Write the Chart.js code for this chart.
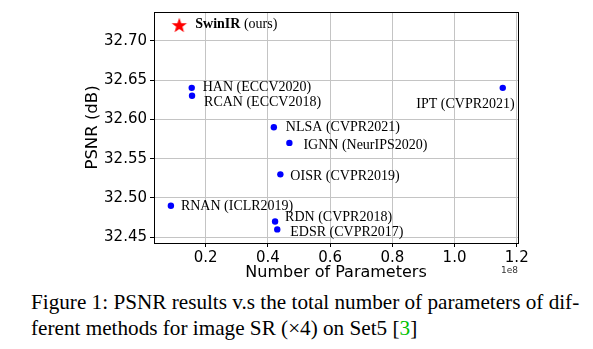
<!DOCTYPE html>
<html>
<head>
<meta charset="utf-8">
<script src="https://cdn.jsdelivr.net/npm/chart.js@4/dist/chart.umd.min.js"></script>
<style>
    body { margin: 0; background: #fff; }
    #wrap { position: relative; width: 593px; height: 349px; overflow: hidden; }
    #plot { position: absolute; left: 0; top: 0; width: 593px; height: 285px; }
    .cap { position: absolute; left: 31px; font: 21.2px "Liberation Serif", serif; line-height: 26px; white-space: nowrap; color: #000; }
</style>
</head>
<body>
<div id="wrap">
    <div id="plot"><canvas id="psnrChart"></canvas></div>
    <div class="cap" id="cap1" style="top:289px">Figure 1: PSNR results v.s the total number of parameters of dif-</div>
    <div class="cap" id="cap2" style="top:315px">ferent methods for image SR (&times;4) on Set5 [<span style="color:#00c000">3</span>]</div>
</div>
<script>
const methods = ['SwinIR', 'HAN (ECCV2020)', 'RCAN (ECCV2018)', 'NLSA (CVPR2021)', 'IGNN (NeurIPS2020)',
    'OISR (CVPR2019)', 'RNAN (ICLR2019)', 'RDN (CVPR2018)', 'EDSR (CVPR2017)', 'IPT (CVPR2021)'];
const params = [11.5e6, 15.5e6, 15.6e6, 41.9e6, 46.9e6, 44.0e6, 8.8e6, 42.3e6, 43.0e6, 115.5e6];
const psnr = [32.72, 32.64, 32.63, 32.59, 32.57, 32.53, 32.49, 32.47, 32.46, 32.64];
const xTicks = [0.2e8, 0.4e8, 0.6e8, 0.8e8, 1.0e8, 1.2e8];
const yTicks = [32.45, 32.50, 32.55, 32.60, 32.65, 32.70];

// label placement relative to each point (px)
const labelOffsets = [[16, -1], [11, -1], [12, 7], [12, 0], [14, 2], [10, 2], [10, 1], [10, -4], [13, 3], [12, 16]];

const makeStar = () => {
    const c = document.createElement('canvas');
    c.width = 18; c.height = 18;
    const g = c.getContext('2d');
    g.fillStyle = '#ff0000';
    g.beginPath();
    for (let i = 0; i < 10; i++) {
        const r = i % 2 === 0 ? 8 : 3.3;
        const a = -Math.PI / 2 + i * Math.PI / 5;
        const px = 9 + r * Math.cos(a), py = 9.8 + r * Math.sin(a);
        i === 0 ? g.moveTo(px, py) : g.lineTo(px, py);
    }
    g.closePath();
    g.fill();
    return c;
};

const frame = {
    id: 'frame',
    afterDraw(chart) {
        const { ctx, chartArea: a } = chart;
        ctx.save();
        ctx.strokeStyle = '#000';
        ctx.lineWidth = 1;
        ctx.strokeRect(Math.round(a.left) + 0.5, Math.round(a.top) + 0.5, Math.round(a.right - a.left), Math.round(a.bottom - a.top));
        ctx.fillStyle = '#333';
        ctx.font = '9px "DejaVu Sans"';
        ctx.textAlign = 'right';
        ctx.textBaseline = 'middle';
        ctx.fillText('1e8', a.right, 271);
        ctx.restore();
    }
};

const pointLabels = {
    id: 'pointLabels',
    afterDatasetsDraw(chart) {
        const { ctx } = chart;
        ctx.save();
        ctx.fillStyle = '#000';
        ctx.textBaseline = 'middle';
        chart.data.datasets.forEach((ds, di) => {
            chart.getDatasetMeta(di).data.forEach((el, i) => {
                const idx = ds.idx[i];
                const [dx, dy] = labelOffsets[idx];
                if (idx === 0) {
                    ctx.textAlign = 'left';
                    ctx.font = 'bold 14px "Liberation Serif"';
                    ctx.fillText('SwinIR', el.x + dx, el.y + dy);
                    const w = ctx.measureText('SwinIR ').width;
                    ctx.font = '14px "Liberation Serif"';
                    ctx.fillText('(ours)', el.x + dx + w, el.y + dy);
                } else if (idx === methods.length - 1) {
                    ctx.textAlign = 'right';
                    ctx.font = '14px "Liberation Serif"';
                    ctx.fillText(methods[idx], el.x + dx, el.y + dy);
                } else {
                    ctx.textAlign = 'left';
                    ctx.font = '14px "Liberation Serif"';
                    ctx.fillText(methods[idx], el.x + dx, el.y + dy);
                }
            });
        });
        ctx.restore();
    }
};

const others = methods.map((m, i) => i).filter(i => i > 0);

new Chart(document.getElementById('psnrChart'), {
    type: 'scatter',
    data: {
        datasets: [
            {
                data: others.map(i => ({ x: params[i], y: psnr[i] })),
                idx: others,
                backgroundColor: '#0000ff',
                borderWidth: 0,
                pointRadius: 3.2
            },
            {
                data: [{ x: params[0], y: psnr[0] }],
                idx: [0],
                pointStyle: makeStar()
            }
        ]
    },
    options: {
        responsive: true,
        maintainAspectRatio: false,
        animation: false,
        layout: { padding: { left: 83, right: 75, top: 12, bottom: 0 } },
        plugins: { legend: { display: false }, tooltip: { enabled: false } },
        scales: {
            x: {
                type: 'linear',
                min: 0.0337e8,
                max: 1.204e8,
                afterBuildTicks: s => { s.ticks = xTicks.map(v => ({ value: v })); },
                afterFit: s => { s.height = 42; },
                ticks: {
                    color: '#000',
                    font: { family: 'DejaVu Sans', size: 15 },
                    padding: 2,
                    maxRotation: 0,
                    callback: v => (v / 1e8).toFixed(1)
                },
                grid: { color: '#c4c4c4', tickColor: '#000', tickLength: 4 },
                border: { display: true, color: '#000' },
                title: {
                    display: true,
                    text: 'Number of Parameters',
                    color: '#000',
                    font: { family: 'DejaVu Sans', size: 16 },
                    padding: { top: 0, bottom: 3 }
                }
            },
            y: {
                min: 32.4427,
                max: 32.7365,
                afterBuildTicks: s => { s.ticks = yTicks.map(v => ({ value: v })); },
                afterFit: s => { s.width = 71; },
                ticks: {
                    color: '#000',
                    font: { family: 'DejaVu Sans', size: 15 },
                    padding: 3,
                    callback: v => v.toFixed(2)
                },
                grid: { color: '#c4c4c4', tickColor: '#000', tickLength: 4 },
                border: { display: true, color: '#000' },
                title: {
                    display: true,
                    text: 'PSNR (dB)',
                    color: '#000',
                    font: { family: 'DejaVu Sans', size: 16.5 },
                    padding: 0
                }
            }
        }
    },
    plugins: [frame, pointLabels]
});
</script>
</body>
</html>
